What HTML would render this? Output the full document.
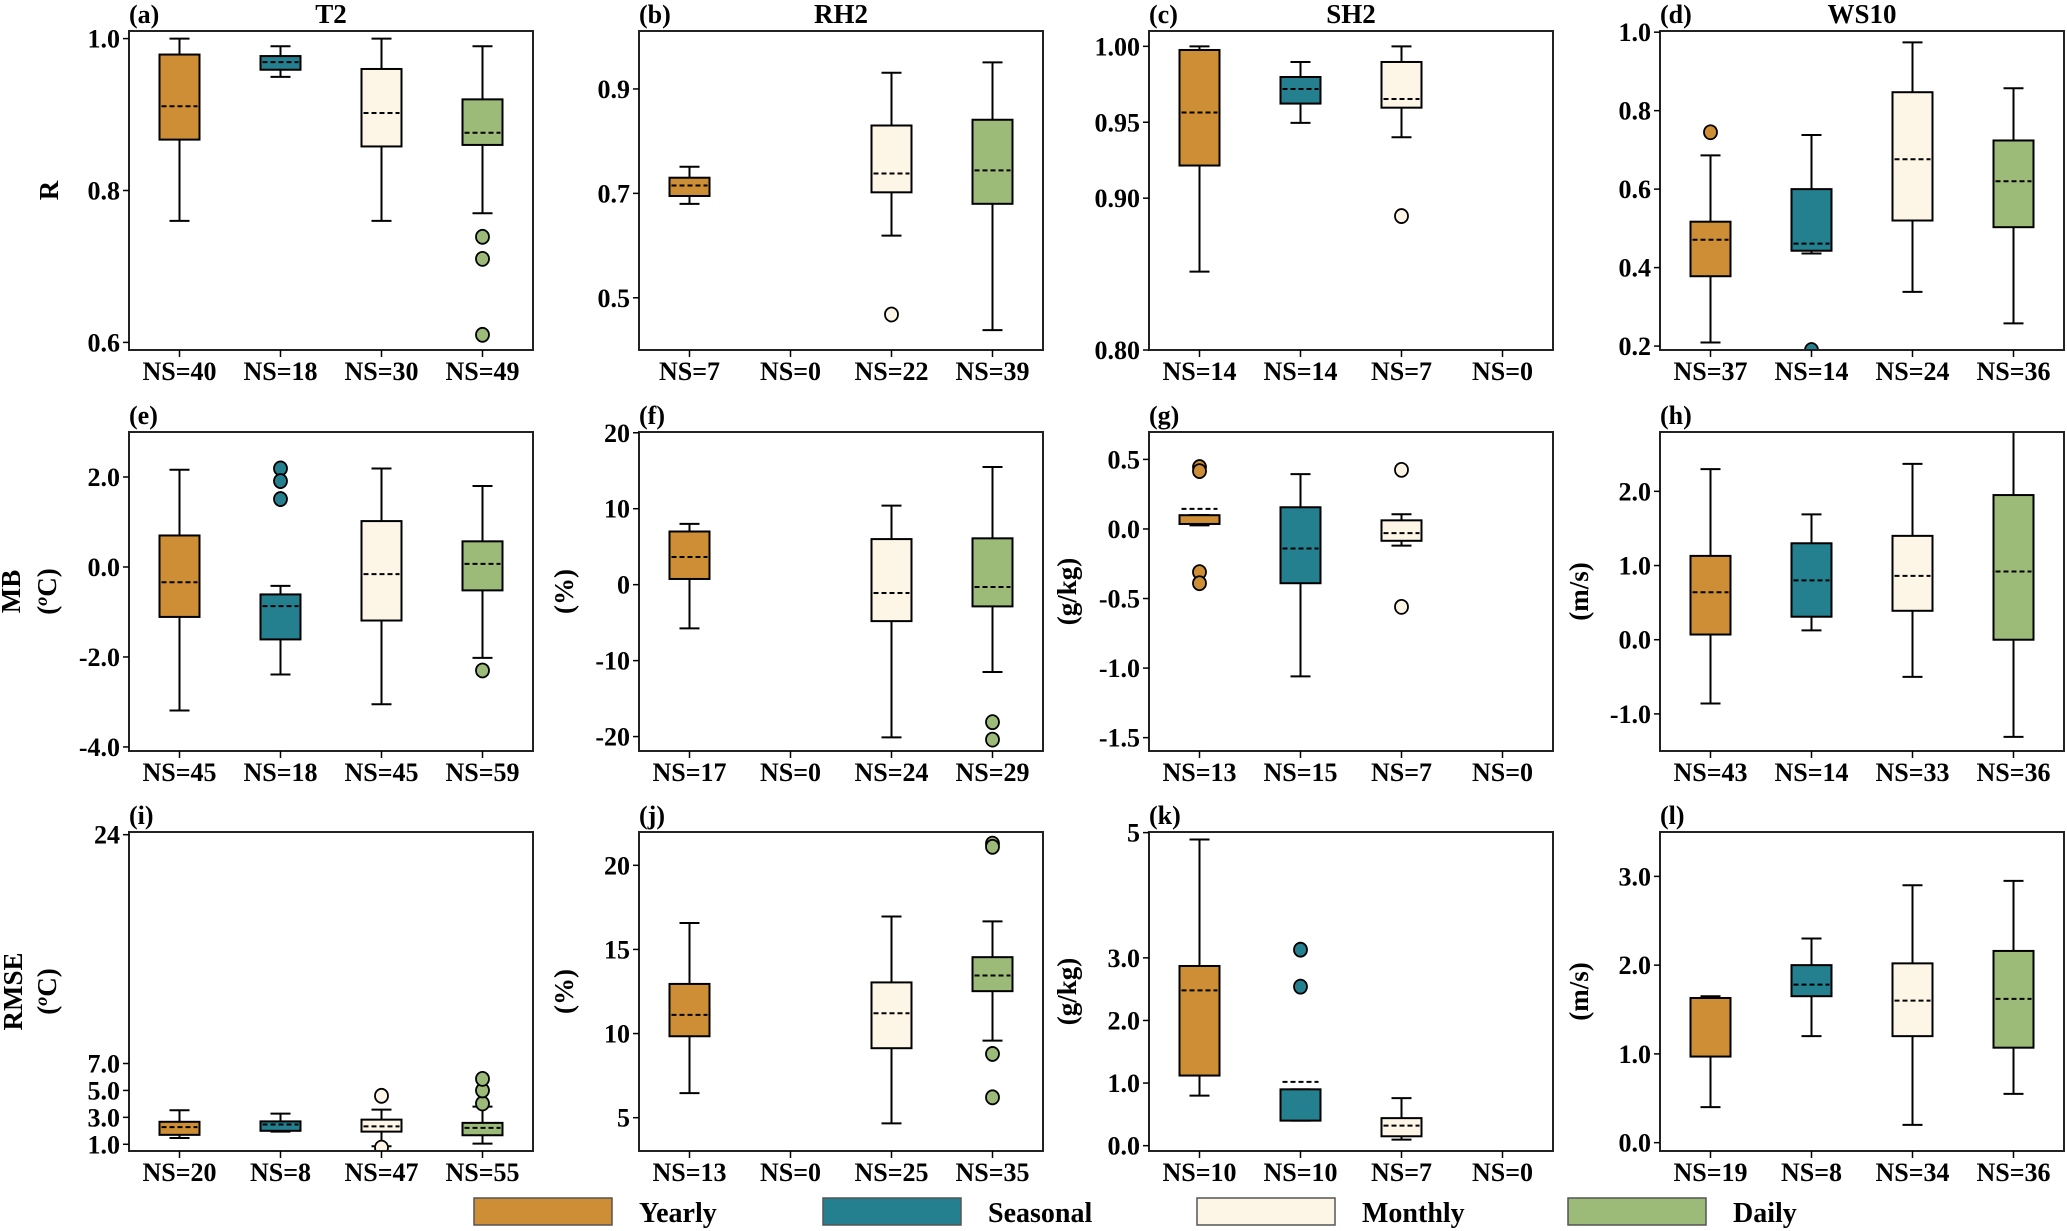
<!DOCTYPE html>
<html><head><meta charset="utf-8"><style>
html,body{margin:0;padding:0;background:#fff;}
svg{display:block;}
text{font-family:"Liberation Serif","Times New Roman",serif;font-weight:bold;fill:#000;}
</style></head><body>
<svg id="fig" width="2067" height="1231" viewBox="0 0 2067 1231" xmlns="http://www.w3.org/2000/svg"></svg>
<script>
const categories = ['Yearly','Seasonal','Monthly','Daily'];
const colors = ['#CD8E35','#247F8F','#FDF5E6','#9CBB78'];

// (a) R T2
const aLow=[0.760,0.9496,0.760,0.770], aQ1=[0.867,0.959,0.858,0.860], aMean=[0.911,0.969,0.902,0.876], aQ3=[0.979,0.977,0.960,0.920], aHigh=[1.0,0.990,1.0,0.990];
const aFliers=[[],[],[],[0.739,0.710,0.610]], aNS=[40,18,30,49], aTicks=[0.6,0.8,1.0], aTickLabels=['0.6','0.8','1.0'];
// (b) R RH2
const bLow=[0.680,null,0.619,0.438], bQ1=[0.695,null,0.702,0.680], bMean=[0.715,null,0.738,0.744], bQ3=[0.730,null,0.830,0.841], bHigh=[0.751,null,0.931,0.951];
const bFliers=[[],[],[0.468],[]], bNS=[7,0,22,39], bTicks=[0.5,0.7,0.9], bTickLabels=['0.5','0.7','0.9'];
// (c) R SH2
const cLow=[0.8516,0.9496,0.9401,null], cQ1=[0.9215,0.9623,0.9596,null], cMean=[0.9564,0.9719,0.9653,null], cQ3=[0.9976,0.9798,0.9897,null], cHigh=[1.0,0.9897,1.0,null];
const cFliers=[[],[],[0.8882],[]], cNS=[14,14,7,0], cTicks=[0.80,0.90,0.95,1.00], cTickLabels=['0.80','0.90','0.95','1.00'];
// (d) R WS10
const dLow=[0.209,0.436,0.338,0.258], dQ1=[0.378,0.443,0.52,0.503], dMean=[0.471,0.461,0.676,0.62], dQ3=[0.517,0.60,0.847,0.724], dHigh=[0.686,0.738,0.974,0.857];
const dFliers=[[0.745],[0.19],[],[]], dNS=[37,14,24,36], dTicks=[0.2,0.4,0.6,0.8,1.0], dTickLabels=['0.2','0.4','0.6','0.8','1.0'];
// (e) MB T2
const eLow=[-3.19,-2.39,-3.05,-2.02], eQ1=[-1.11,-1.61,-1.19,-0.52], eMean=[-0.34,-0.87,-0.16,0.07], eQ3=[0.70,-0.61,1.02,0.57], eHigh=[2.16,-0.42,2.19,1.80];
const eFliers=[[],[2.19,1.91,1.51],[],[-2.30]], eNS=[45,18,45,59], eTicks=[-4,-2,0,2], eTickLabels=['-4.0','-2.0','0.0','2.0'];
// (f) MB RH2
const fLow=[-5.76,null,-20.1,-11.5], fQ1=[0.75,null,-4.8,-2.86], fMean=[3.65,null,-1.1,-0.3], fQ3=[7.0,null,6.0,6.1], fHigh=[8.0,null,10.4,15.5];
const fFliers=[[],[],[],[-18.1,-20.4]], fNS=[17,0,24,29], fTicks=[-20,-10,0,10,20], fTickLabels=['-20','-10','0','10','20'];
// (g) MB SH2
const gLow=[0.026,-1.06,-0.12,null], gQ1=[0.036,-0.39,-0.085,null], gMean=[0.144,-0.14,-0.03,null], gQ3=[0.099,0.156,0.062,null], gHigh=[0.10,0.394,0.106,null];
const gFliers=[[0.445,0.416,-0.31,-0.39],[],[0.425,-0.56],[]], gNS=[13,15,7,0], gTicks=[-1.5,-1.0,-0.5,0,0.5], gTickLabels=['-1.5','-1.0','-0.5','0.0','0.5'];
// (h) MB WS10
const hLow=[-0.86,0.126,-0.50,-1.31], hQ1=[0.07,0.31,0.39,0.0], hMean=[0.64,0.80,0.86,0.92], hQ3=[1.13,1.30,1.40,1.95], hHigh=[2.30,1.69,2.37,2.9];
const hFliers=[[],[],[],[]], hNS=[43,14,33,36], hTicks=[-1,0,1,2], hTickLabels=['-1.0','0.0','1.0','2.0'];
// (i) RMSE T2
const iLow=[1.47,1.94,0.85,1.05], iQ1=[1.70,2.0,1.94,1.67], iMean=[2.27,2.47,2.33,2.22], iQ3=[2.67,2.70,2.83,2.59], iHigh=[3.53,3.28,3.57,3.8];
const iFliers=[[],[],[4.6,0.75],[4.03,5.0,5.86]], iNS=[20,8,47,55], iTicks=[1,3,5,7,24], iTickLabels=['1.0','3.0','5.0','7.0','24'];
// (j) RMSE RH2
const jLow=[6.46,null,4.66,9.58], jQ1=[9.84,null,9.13,12.52], jMean=[11.11,null,11.21,13.45], jQ3=[12.95,null,13.04,14.54], jHigh=[16.57,null,16.96,16.67];
const jFliers=[[],[],[],[8.79,6.21,21.29,21.1]], jNS=[13,0,25,35], jTicks=[5,10,15,20], jTickLabels=['5','10','15','20'];
// (k) RMSE SH2
const kLow=[0.80,0.40,0.096,null], kQ1=[1.12,0.40,0.15,null], kMean=[2.48,1.02,0.32,null], kQ3=[2.87,0.90,0.44,null], kHigh=[4.89,0.90,0.76,null];
const kFliers=[[],[3.13,2.54],[],[]], kNS=[10,10,7,0], kTicks=[0,1,2,3,5], kTickLabels=['0.0','1.0','2.0','3.0','5'];
// (l) RMSE WS10
const lLow=[0.40,1.20,0.20,0.55], lQ1=[0.97,1.65,1.20,1.07], lMean=[1.63,1.78,1.60,1.62], lQ3=[1.63,2.0,2.02,2.16], lHigh=[1.65,2.30,2.90,2.95];
const lFliers=[[],[],[],[]], lNS=[19,8,34,36], lTicks=[0,1,2,3], lTickLabels=['0.0','1.0','2.0','3.0'];

const panels = [
 {k:'a',c:0,r:0,ylim:[0.590,1.010],low:aLow,q1:aQ1,mean:aMean,q3:aQ3,high:aHigh,fl:aFliers,ns:aNS,t:aTicks,tl:aTickLabels,title:'T2',ylab:['R']},
 {k:'b',c:1,r:0,ylim:[0.400,1.011],low:bLow,q1:bQ1,mean:bMean,q3:bQ3,high:bHigh,fl:bFliers,ns:bNS,t:bTicks,tl:bTickLabels,title:'RH2'},
 {k:'c',c:2,r:0,ylim:[0.800,1.0101],low:cLow,q1:cQ1,mean:cMean,q3:cQ3,high:cHigh,fl:cFliers,ns:cNS,t:cTicks,tl:cTickLabels,title:'SH2'},
 {k:'d',c:3,r:0,ylim:[0.190,1.003],low:dLow,q1:dQ1,mean:dMean,q3:dQ3,high:dHigh,fl:dFliers,ns:dNS,t:dTicks,tl:dTickLabels,title:'WS10'},
 {k:'e',c:0,r:1,ylim:[-4.09,3.0],low:eLow,q1:eQ1,mean:eMean,q3:eQ3,high:eHigh,fl:eFliers,ns:eNS,t:eTicks,tl:eTickLabels,ylab:['MB','(oC)']},
 {k:'f',c:1,r:1,ylim:[-21.9,20.1],low:fLow,q1:fQ1,mean:fMean,q3:fQ3,high:fHigh,fl:fFliers,ns:fNS,t:fTicks,tl:fTickLabels,ylab:['(%)']},
 {k:'g',c:2,r:1,ylim:[-1.596,0.697],low:gLow,q1:gQ1,mean:gMean,q3:gQ3,high:gHigh,fl:gFliers,ns:gNS,t:gTicks,tl:gTickLabels,ylab:['(g/kg)']},
 {k:'h',c:3,r:1,ylim:[-1.50,2.80],low:hLow,q1:hQ1,mean:hMean,q3:hQ3,high:hHigh,fl:hFliers,ns:hNS,t:hTicks,tl:hTickLabels,ylab:['(m/s)']},
 {k:'i',c:0,r:2,ylim:[0.5,24.2],low:iLow,q1:iQ1,mean:iMean,q3:iQ3,high:iHigh,fl:iFliers,ns:iNS,t:iTicks,tl:iTickLabels,ylab:['RMSE','(oC)']},
 {k:'j',c:1,r:2,ylim:[3.02,21.98],low:jLow,q1:jQ1,mean:jMean,q3:jQ3,high:jHigh,fl:jFliers,ns:jNS,t:jTicks,tl:jTickLabels,ylab:['(%)']},
 {k:'k',c:2,r:2,ylim:[-0.085,5.01],low:kLow,q1:kQ1,mean:kMean,q3:kQ3,high:kHigh,fl:kFliers,ns:kNS,t:kTicks,tl:kTickLabels,ylab:['(g/kg)']},
 {k:'l',c:3,r:2,ylim:[-0.094,3.50],low:lLow,q1:lQ1,mean:lMean,q3:lQ3,high:lHigh,fl:lFliers,ns:lNS,t:lTicks,tl:lTickLabels,ylab:['(m/s)']}
];

const colLeft=[129,639,1149,1660], rowTop=[31,432,832], PW=404, PH=319;
const ylabX=[[58],[573],[1076],[1588]];
const svg=document.getElementById('fig');
const NS='http://www.w3.org/2000/svg';
function mk(tag,attrs,parent){const e=document.createElementNS(NS,tag);for(const k in attrs)e.setAttribute(k,attrs[k]);(parent||svg).appendChild(e);return e;}

panels.forEach(p=>{
  const L=colLeft[p.c], T=rowTop[p.r], B=T+PH, R=L+PW;
  const g=mk('g',{});
  
  
  const y=v=>B-(v-p.ylim[0])/(p.ylim[1]-p.ylim[0])*PH;
  const x=i=>L+PW/8+i*PW/4;
  const cp=mk('clipPath',{id:'clip-'+p.k},g); mk('rect',{x:L,y:T,width:PW,height:PH},cp);
  const plot=mk('g',{'clip-path':'url(#clip-'+p.k+')'},g);
  
  
  categories.forEach((cat,i)=>{
    if(p.low[i]===null) return;
    const cx=x(i), bw=40, cw=20;
    const bg=mk('g',{},plot);
    
    
    mk('line',{x1:cx,x2:cx,y1:y(p.q3[i]),y2:y(p.high[i]),stroke:'#000','stroke-width':2},bg);
    mk('line',{x1:cx,x2:cx,y1:y(p.q1[i]),y2:y(p.low[i]),stroke:'#000','stroke-width':2},bg);
    mk('line',{x1:cx-cw/2,x2:cx+cw/2,y1:y(p.high[i]),y2:y(p.high[i]),stroke:'#000','stroke-width':2},bg);
    mk('line',{x1:cx-cw/2,x2:cx+cw/2,y1:y(p.low[i]),y2:y(p.low[i]),stroke:'#000','stroke-width':2},bg);
    const top=y(p.q3[i]), bot=y(p.q1[i]);
    mk('rect',{x:cx-bw/2,y:Math.min(top,bot),width:bw,height:Math.max(Math.abs(bot-top),1),fill:colors[i],stroke:'#000','stroke-width':2},bg);
    mk('line',{x1:cx-bw/2+2,x2:cx+bw/2-2,y1:y(p.mean[i]),y2:y(p.mean[i]),stroke:'#000','stroke-width':2,'stroke-dasharray':'5,3'},bg);
    p.fl[i].forEach(v=>{
      const f=mk('ellipse',{cx:cx,cy:y(v),rx:6.5,ry:7,fill:colors[i],stroke:'#000','stroke-width':1.8},bg);
      
      
    });
  });
  const fr=mk('rect',{x:L,y:T,width:PW,height:PH,fill:'none',stroke:'#222','stroke-width':2},g);
  
  
  p.t.forEach((v,j)=>{
    const yy=y(v);
    mk('line',{x1:L-6,x2:L,y1:yy,y2:yy,stroke:'#000','stroke-width':1.5},g);
    const t=mk('text',{x:L-9,y:yy+9,'text-anchor':'end','font-size':26},g);
    t.textContent=p.tl[j];
    
    
  });
  categories.forEach((cat,i)=>{
    mk('line',{x1:x(i),x2:x(i),y1:B,y2:B+7,stroke:'#000','stroke-width':1.5},g);
    const t=mk('text',{x:x(i),y:B+30,'text-anchor':'middle','font-size':26},g);
    t.textContent='NS='+p.ns[i];
    
    
  });
  const pl=mk('text',{x:L,y:T-8,'font-size':26},g);
  pl.textContent='('+p.k+')';
  
  
  if(p.title){
    const tt=mk('text',{x:L+PW/2,y:T-8,'text-anchor':'middle','font-size':27},g);
    tt.textContent=p.title;
    
    
  }
  if(p.ylab){
    const cy=T+PH/2;
    const n=p.ylab.length;
    const bx=ylabX[p.c][0];
    p.ylab.forEach((s,j)=>{
      const xx = n===1 ? bx : (p.c===0 ? (j===0? (p.r===1?20:22):56) : bx);
      const t=mk('text',{x:xx,y:cy,'text-anchor':'middle','font-size':27,transform:'rotate(-90 '+xx+' '+cy+')'},g);
      if(s==='(oC)'){
        t.appendChild(document.createTextNode('('));
        const sp=mk('tspan',{'font-style':'italic','font-size':18,dy:-9},t); sp.textContent='o';
        const sp2=mk('tspan',{dy:9},t); sp2.textContent='C)';
      } else t.textContent=s;
      
      
    });
  }
});

const legX=[474,823,1197,1568], legTX=[639,988,1362,1733];
const lg=mk('g',{});


categories.forEach((cat,i)=>{
  const r=mk('rect',{x:legX[i],y:1198,width:138,height:27,fill:colors[i],stroke:'#555','stroke-width':1.5},lg);
  
  
  const t=mk('text',{x:legTX[i],y:1222,'font-size':28},lg);
  t.textContent=cat;
  
  
});
</script>
</body></html>
